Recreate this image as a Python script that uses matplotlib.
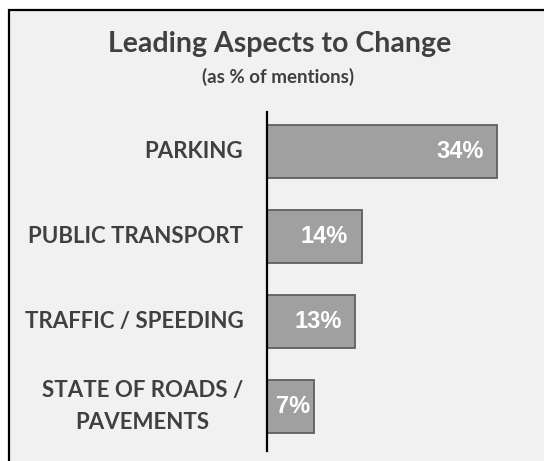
import matplotlib.pyplot as plt
from matplotlib.patches import Rectangle

categories = ["PARKING", "PUBLIC TRANSPORT", "TRAFFIC / SPEEDING", "STATE OF ROADS /\nPAVEMENTS"]
values = [34, 14, 13, 7]
value_labels = ["34%", "14%", "13%", "7%"]

W, H = 544, 461
fig = plt.figure(figsize=(W / 100, H / 100), dpi=100)
fig.patch.set_facecolor("white")

# grey panel with black frame (right/bottom cut off in the reference)
fig.patches.append(Rectangle((9 / W, -0.05), 1.2, 1 - 10 / H + 0.05,
                             transform=fig.transFigure, facecolor="#f1f1f1",
                             edgecolor="black", linewidth=1.6, zorder=-10))

ax_left = 267 / W
ax_bottom = 1 - 451 / H
ax_top = 1 - 112 / H
ax = fig.add_axes([ax_left, ax_bottom, 257 / W, ax_top - ax_bottom])
ax.set_facecolor("none")

y = list(range(len(categories)))
ax.barh(y, values, height=0.62, color="#a0a0a0", edgecolor="#5f5f5f", linewidth=1.3)

for yi, v, lab in zip(y, values, value_labels):
    if v < 10:
        # too narrow: centre the label in the bar
        ax.text(v / 2 + 0.4, yi, lab, ha="center", va="center", color="white",
                fontsize=17, fontweight="bold", family="Liberation Sans")
    else:
        ax.text(v - 2.0, yi, lab, ha="right", va="center", color="white",
                fontsize=17, fontweight="bold", family="Liberation Sans")

ax.set_xlim(0, 38)
ax.set_ylim(3.52, -0.465)
ax.set_xticks([])
ax.set_yticks([])
for s in ["top", "right", "bottom"]:
    ax.spines[s].set_visible(False)
ax.spines["left"].set_color("black")
ax.spines["left"].set_linewidth(1.6)

for yi, cat in zip(y, categories):
    ax.text(-3.5, yi, cat, ha="right", va="center", multialignment="center",
            color="#404040", fontsize=16, fontweight="bold", family="Lato",
            linespacing=1.65)

fig.text(280 / W, 1 - 52 / H, "Leading Aspects to Change", ha="center", va="baseline",
         color="#404040", fontsize=20.5, fontweight="bold", family="Lato")
fig.text(278 / W, 1 - 83 / H, "(as % of mentions)", ha="center", va="baseline",
         color="#404040", fontsize=13.5, fontweight="bold", family="Lato")

fig.savefig("out.png", dpi=100)
